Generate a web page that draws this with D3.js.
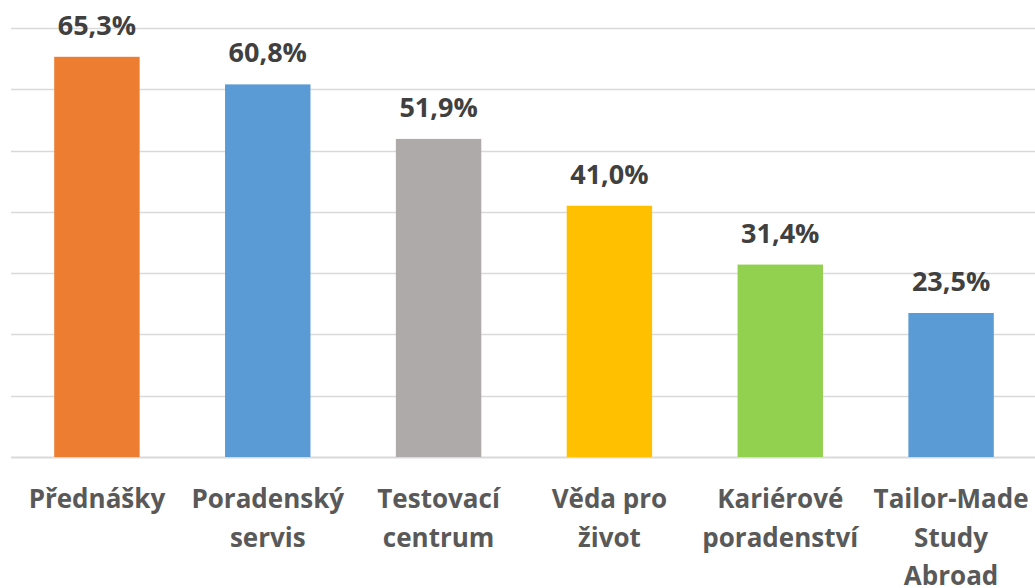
<!DOCTYPE html>
<html>
<head>
<meta charset="utf-8">
<script src="https://cdn.jsdelivr.net/npm/d3@7"></script>
<style>
  body { margin: 0; background: #fff; }
  svg text { font-family: "Open Sans", sans-serif; font-weight: bold; }
</style>
</head>
<body>
<svg id="chart" width="1035" height="588"></svg>
<script>
var categories = ["Přednášky", "Poradenský\nservis", "Testovací\ncentrum", "Věda pro\nživot", "Kariérové\nporadenství", "Tailor-Made\nStudy\nAbroad"];
var values = [65.3, 60.8, 51.9, 41.0, 31.4, 23.5];
var colors = ["#ED7D31", "#5B9BD5", "#AEAAAA", "#FFC000", "#92D050", "#5B9BD5"];
var ticks = [0, 10, 20, 30, 40, 50, 60, 70];

const svg = d3.select("#chart");

const x = d3.scaleBand()
  .domain(categories)
  .range([11.5, 1036.5])
  .paddingInner(0.5)
  .paddingOuter(0.25);

const y = d3.scaleLinear()
  .domain([0, 70])
  .range([457, 28]);

// gridlines
svg.append("g")
  .selectAll("line")
  .data(ticks)
  .enter()
  .append("line")
  .attr("x1", 11)
  .attr("x2", 1035)
  .attr("y1", d => Math.round(y(d)) + 0.5)
  .attr("y2", d => Math.round(y(d)) + 0.5)
  .attr("stroke", "#D9D9D9")
  .attr("stroke-width", d => d == 0 ? 2 : 1.5);

// bars
svg.append("g")
  .selectAll("rect")
  .data(values)
  .enter()
  .append("rect")
  .attr("x", (d, i) => x(categories[i]))
  .attr("width", x.bandwidth())
  .attr("y", d => y(d))
  .attr("height", d => y(0) - y(d))
  .attr("fill", (d, i) => colors[i]);

// value labels
svg.append("g")
  .selectAll("text")
  .data(values)
  .enter()
  .append("text")
  .attr("x", (d, i) => x(categories[i]) + x.bandwidth() / 2)
  .attr("y", d => y(d) - 22)
  .attr("text-anchor", "middle")
  .attr("font-size", 27)
  .attr("fill", "#404040")
  .text(d => d.toFixed(1).replace(".", ",") + "%");

// category labels
const labels = svg.append("g")
  .selectAll("text")
  .data(categories)
  .enter()
  .append("text")
  .attr("text-anchor", "middle")
  .attr("font-size", 26)
  .attr("fill", "#595959");

labels.selectAll("tspan")
  .data(d => d.split("\n").map(s => ({ cat: d, line: s })))
  .enter()
  .append("tspan")
  .attr("x", d => x(d.cat) + x.bandwidth() / 2)
  .attr("y", (d, i) => 508 + i * 38.5)
  .text(d => d.line);
</script>
</body>
</html>
